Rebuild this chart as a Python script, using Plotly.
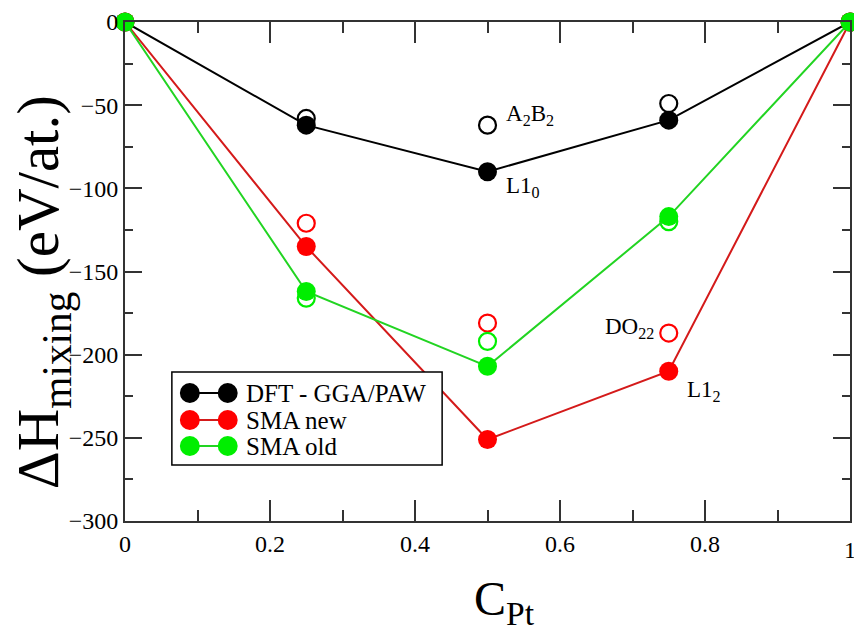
import plotly.graph_objects as go

# Pt concentration
c_pt = [0.0, 0.25, 0.5, 0.75, 1.0]

# Mixing enthalpies (meV/at.) for the ground-state structures
dft_ground = [0, -62, -90, -59, 0]
sma_new_ground = [0, -135, -251, -210, 0]
sma_old_ground = [0, -162, -207, -117, 0]

# Competing structures (open symbols)
c_alt = [0.25, 0.5, 0.75]
dft_alt = [-58, -62, -49]
sma_new_alt = [-121, -181, -187]
sma_old_alt = [-166, -192, -120]

# Structure labels: (x, y, text, xanchor)
struct_labels = [
    (0.523, -56, "A<sub>2</sub>B<sub>2</sub>", "left"),
    (0.523, -99, "L1<sub>0</sub>", "left"),
    (0.733, -184, "DO<sub>22</sub>", "right"),
    (0.773, -222, "L1<sub>2</sub>", "left"),
]

x_tickvals = [0, 0.2, 0.4, 0.6, 0.8, 1]
x_ticktext = ["0", "0.2", "0.4", "0.6", "0.8", "1"]

series_names = ["DFT - GGA/PAW", "SMA new", "SMA old"]
marker_colors = ["#000000", "#ff0000", "#00ee00"]
line_colors = ["#000000", "#d41a1a", "#22d422"]

FONT = '"Liberation Serif", "Times New Roman", Times, serif'
W, H = 854, 631
ML, MR, MT, MB = 125, 2, 22, 110
PW, PH = W - ML - MR, H - MT - MB

fig = go.Figure()

# open symbols first so filled symbols sit on top
for ys, col in zip([dft_alt, sma_new_alt, sma_old_alt], marker_colors):
    fig.add_trace(go.Scatter(
        x=c_alt, y=ys, mode="markers", showlegend=False, cliponaxis=False,
        marker=dict(symbol="circle-open", size=17, color=col, line=dict(width=2.2, color=col)),
    ))

for ys, mc, lc, name in zip([dft_ground, sma_new_ground, sma_old_ground],
                            marker_colors, line_colors, series_names):
    fig.add_trace(go.Scatter(
        x=c_pt, y=ys, mode="lines+markers", name=name, showlegend=False, cliponaxis=False,
        line=dict(color=lc, width=2),
        marker=dict(symbol="circle", size=19, color=mc),
    ))

annotations = []
for x, y, txt, xa in struct_labels:
    annotations.append(dict(x=x, y=y, xref="x", yref="y", text=txt, showarrow=False,
                            xanchor=xa, yanchor="middle",
                            font=dict(family=FONT, size=23, color="#000")))


def px_to_paper(px, py):
    return (px - ML) / PW, (MT + PH - py) / PH


shapes = []
# legend frame
x0, y0 = px_to_paper(172, 372)
x1, y1 = px_to_paper(443, 465)
shapes.append(dict(type="rect", xref="paper", yref="paper", x0=x0, y0=y1, x1=x1, y1=y0,
                   line=dict(color="#000", width=1.5), fillcolor="white", layer="above"))
rows = [393, 420, 446]
r = 10
for py, mc, lc, name in zip(rows, marker_colors, line_colors, series_names):
    a0, b = px_to_paper(190, py)
    a1, _ = px_to_paper(228, py)
    shapes.append(dict(type="line", xref="paper", yref="paper", x0=a0, y0=b, x1=a1, y1=b,
                       line=dict(color=lc, width=2), layer="above"))
    for cx in (190, 228):
        cx0, cy0 = px_to_paper(cx - r, py + r)
        cx1, cy1 = px_to_paper(cx + r, py - r)
        shapes.append(dict(type="circle", xref="paper", yref="paper", x0=cx0, y0=cy0,
                           x1=cx1, y1=cy1, fillcolor=mc, line=dict(color=mc, width=0),
                           layer="above"))
    tx, ty = px_to_paper(244, py)
    annotations.append(dict(x=tx, y=ty, xref="paper", yref="paper", text=name,
                            showarrow=False, xanchor="left", yanchor="middle",
                            font=dict(family=FONT, size=25, color="#000")))

# axis titles
ax, ay = px_to_paper(42, 292)
annotations.append(dict(x=ax, y=ay, xref="paper", yref="paper", textangle=-90,
                        text="ΔH<sub>mixing</sub> (eV/at.)", showarrow=False,
                        xanchor="center", yanchor="middle",
                        font=dict(family=FONT, size=59, color="#000")))
bx, by = px_to_paper(506, 602)
annotations.append(dict(x=bx, y=by, xref="paper", yref="paper",
                        text="C<sub>Pt</sub>", showarrow=False,
                        xanchor="center", yanchor="middle",
                        font=dict(family=FONT, size=48, color="#000")))

# right-most x tick label, partly beyond the figure edge
annotations.append(dict(x=1, y=0, xref="x", yref="paper", text=x_ticktext[-1],
                        showarrow=False, xanchor="center", yanchor="top", yshift=-14,
                        font=dict(family=FONT, size=24, color="#000")))

axis_common = dict(showgrid=False, zeroline=False, showline=True, linecolor="#333",
                   linewidth=2, mirror="ticks", ticks="inside", tickcolor="#333",
                   tickwidth=1.5, tickfont=dict(family=FONT, size=24, color="#000"))

fig.update_xaxes(range=[0, 1], tickvals=x_tickvals[:-1], ticktext=x_ticktext[:-1], ticklen=21,
                 minor=dict(dtick=0.1, ticks="inside", ticklen=11, tickcolor="#333", tickwidth=1.5),
                 **axis_common)
fig.update_yaxes(range=[-300, 0], dtick=50, ticklen=17,
                 minor=dict(dtick=25, ticks="inside", ticklen=8, tickcolor="#333", tickwidth=1.5),
                 **axis_common)

fig.update_layout(width=W, height=H, margin=dict(l=ML, r=MR, t=MT, b=MB),
                  paper_bgcolor="white", plot_bgcolor="white",
                  font=dict(family=FONT),
                  shapes=shapes, annotations=annotations, showlegend=False)

fig.write_html("out.html")
